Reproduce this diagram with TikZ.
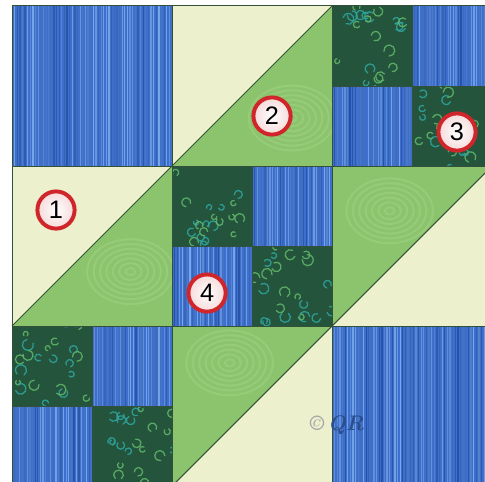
\documentclass[tikz,border=0pt]{standalone}
\usepackage{fontspec}
\setsansfont{Liberation Sans}
\definecolor{quiltblue}{HTML}{3D6FCC}
\definecolor{stripelight}{HTML}{7BA9EC}
\definecolor{stripedark}{HTML}{2450A8}
\definecolor{creamy}{HTML}{EDF0CD}
\definecolor{leafgreen}{HTML}{8CC46D}
\definecolor{swirlgreen}{HTML}{A6D88A}
\definecolor{printdark}{HTML}{24553C}
\definecolor{swirlteal}{HTML}{2FA7A2}
\definecolor{swirlleaf}{HTML}{62B86A}
\definecolor{seamgray}{HTML}{34503A}
\definecolor{ballred}{HTML}{D0252A}
\definecolor{ballpink}{HTML}{F6DADA}
\definecolor{markblue}{HTML}{2C4E8C}

\newcommand{\bluepatch}[3]{%
  \fill[quiltblue] (#1,#2) rectangle ++(#3,#3);
  \pgfmathtruncatemacro{\nst}{#3*60}
  \foreach \k in {1,...,\nst}{
    \pgfmathtruncatemacro{\mixv}{rnd*100}
    \draw[line width=0.9pt, stripelight!\mixv!stripedark]
      ({#1+\k*#3/(\nst+1)},#2) -- ++(0,#3);
  }}

\newcommand{\printpatch}[2]{%
  \begin{scope}
    \clip (#1,#2) rectangle ++(0.5,0.5);
    \fill[printdark] (#1,#2) rectangle ++(0.5,0.5);
    \foreach \k in {1,...,22}{
      \pgfmathsetmacro{\px}{#1+rnd*0.5}
      \pgfmathsetmacro{\py}{#2+rnd*0.5}
      \pgfmathsetmacro{\sa}{rnd*360}
      \pgfmathsetmacro{\rr}{0.015+rnd*0.02}
      \ifodd\k \def\swc{swirlteal}\else \def\swc{swirlleaf}\fi
      \draw[\swc, line width=0.9pt, line cap=round, opacity=0.85]
        (\px,\py) arc[start angle=\sa, delta angle=280, radius=\rr];
    }
  \end{scope}}

\newcommand{\greentri}[4]{%
  \begin{scope}
    \clip (#1) -- (#2) -- (#3) -- cycle;
    \fill[leafgreen] (#1) -- (#2) -- (#3) -- cycle;
    \foreach \rr in {0.03,0.07,...,0.31}
      \draw[swirlgreen, line width=1.4pt, opacity=0.4]
        (#4) ellipse[x radius=\rr, y radius={0.75*\rr}];
  \end{scope}}

\tikzset{
  seam/.style={draw=seamgray, line width=0.7pt},
  numball/.style={circle, draw=ballred, line width=2.8pt, inner color=white,
    outer color=ballpink, minimum size=0.93cm, inner sep=0pt,
    font=\sffamily\fontsize{18pt}{18pt}\selectfont}
}

\begin{document}
\begin{tikzpicture}[x=4cm,y=4cm]
\pgfmathsetseed{7}
\useasboundingbox (-0.075,0.031) rectangle (2.956,3.0375);
\fill[white] (-0.075,0.031) rectangle (2.956,3.0375);
\clip (-0.075,0.031) rectangle (2.956,3.0375);

\fill[creamy] (1,2) -- (1,3) -- (2,3) -- cycle;
\fill[creamy] (0,1) -- (0,2) -- (1,2) -- cycle;
\fill[creamy] (2,1) -- (3,1) -- (3,2) -- cycle;
\fill[creamy] (1,0) -- (2,0) -- (2,1) -- cycle;

\greentri{1,2}{2,2}{2,3}{1.75,2.3}
\greentri{0,1}{1,1}{1,2}{0.74,1.34}
\greentri{2,1}{2,2}{3,2}{2.36,1.72}
\greentri{1,0}{1,1}{2,1}{1.36,0.77}

\bluepatch{0}{2}{1}
\bluepatch{2}{0}{1}
\bluepatch{2.5}{2.5}{0.5}
\bluepatch{2}{2}{0.5}
\bluepatch{1.5}{1.5}{0.5}
\bluepatch{1}{1}{0.5}
\bluepatch{0.5}{0.5}{0.5}
\bluepatch{0}{0}{0.5}

\printpatch{2}{2.5}
\printpatch{2.5}{2}
\printpatch{1}{1.5}
\printpatch{1.5}{1}
\printpatch{0}{0.5}
\printpatch{0.5}{0}

\foreach \t in {0,1,2,3}
  \draw[seam] (\t,0) -- (\t,3) (0,\t) -- (3,\t);
\draw[seam] (2,2.5) -- (3,2.5) (2.5,2) -- (2.5,3);
\draw[seam] (1,1.5) -- (2,1.5) (1.5,1) -- (1.5,2);
\draw[seam] (0,0.5) -- (1,0.5) (0.5,0) -- (0.5,1);
\draw[seam] (1,2) -- (2,3) (0,1) -- (1,2) (2,1) -- (3,2) (1,0) -- (2,1);

\node[numball] (n1) at (0.275,1.725) {1};
\node[numball] (n2) at (1.625,2.3125) {2};
\node[numball] (n3) at (2.781,2.2125) {3};
\node[numball] (n4) at (1.219,1.206) {4};

\node[font=\fontsize{15pt}{15pt}\selectfont\bfseries\itshape] (logo) at (2.03,0.38)
  {\textcolor{gray!70}{\textcopyright}\,\textcolor{markblue}{QR}};
\end{tikzpicture}
\end{document}
